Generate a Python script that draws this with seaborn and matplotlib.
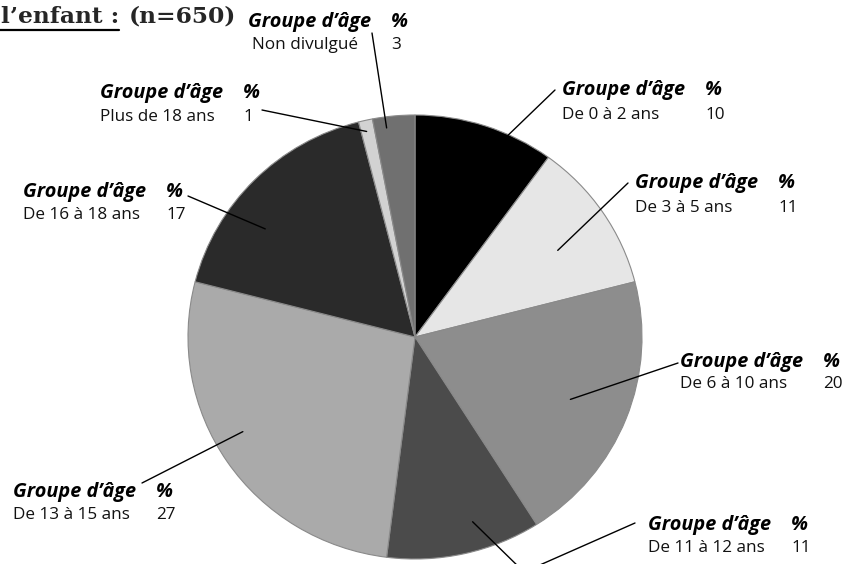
import matplotlib
matplotlib.use("Agg")
import matplotlib.pyplot as plt
from matplotlib.lines import Line2D
import seaborn as sns
import numpy as np

# Répartition par groupe d'âge de l'enfant
groups = ["De 0 à 2 ans", "De 3 à 5 ans", "De 6 à 10 ans", "De 11 à 12 ans",
          "De 13 à 15 ans", "De 16 à 18 ans", "Plus de 18 ans", "Non divulgué"]
percent = [10, 11, 20, 11, 27, 17, 1, 3]
shades = ["#000000", "#e6e6e6", "#8d8d8d", "#4b4b4b",
          "#aaaaaa", "#2a2a2a", "#d2d2d2", "#707070"]
header_label = "Groupe d\u2019âge"
pct_label = "%"
title_main = "l\u2019enfant :"
title_n = "(n=650)"

sns.set_theme(style="white")
plt.rcParams["font.family"] = ["Open Sans", "DejaVu Sans"]

W, H = 846, 564
fig = plt.figure(figsize=(W / 100, H / 100), dpi=100)
fig.patch.set_facecolor("white")


def fx(x):
    return x / W


def fy(y):
    return 1 - y / H


# pie area in pixel coordinates (left, top, right, bottom)
L, T, R, B = 188, 115, 642, 559
ax = fig.add_axes([fx(L), fy(B), (R - L) / W, (B - T) / H])
wedges, _ = ax.pie(percent, colors=shades, startangle=90, counterclock=False,
                   wedgeprops=dict(edgecolor="#8a8a8a", linewidth=0.8))
ax.set_xlim(-1, 1)
ax.set_ylim(-1, 1)
ax.set_aspect("auto")
ax.axis("off")

# label block: left x, header y, value-line y, leader start, radius, position in wedge, elbow
layout = [
    (562, 90, 115, (555, 90), 0.99, 0.67, None),
    (635, 183, 208, (628, 183), 0.74, 0.56, None),
    (680, 362, 384, (678, 363), 0.74, 0.51, None),
    (648, 525, 548, (635, 523), 0.87, 0.39, (524, 572)),
    (13, 492, 515, (142, 483), 0.87, 0.55, None),
    (23, 192, 215, (188, 196), 0.82, 0.36, None),
    (100, 93, 117, (262, 110), 0.95, 0.40, None),
    (248, 22, 45, (372, 33), 0.95, 0.30, None),
]

to_fig = ax.transData + fig.transFigure.inverted()
col_off = 143
for wedge, name, val, (lx, hy, vy, start, rr, frac, elbow) in zip(
        wedges, groups, percent, layout):
    th1, th2 = wedge.theta1, wedge.theta2
    ang = np.deg2rad(th2 - frac * (th2 - th1))
    end = to_fig.transform((rr * np.cos(ang), rr * np.sin(ang)))
    pts = [(fx(start[0]), fy(start[1]))]
    if elbow is not None:
        pts.append((fx(elbow[0]), fy(elbow[1])))
    pts.append(tuple(end))
    xs, ys = zip(*pts)
    fig.add_artist(Line2D(xs, ys, transform=fig.transFigure,
                          color="black", linewidth=1.0))

    fig.text(fx(lx), fy(hy), header_label, fontsize=14.3, fontweight="bold",
             fontstyle="italic", va="center", ha="left", color="black")
    fig.text(fx(lx + col_off), fy(hy), pct_label, fontsize=14.3, fontweight="bold",
             fontstyle="italic", va="center", ha="left", color="black")
    indent = 4 if name == "Non divulgué" else 0
    fig.text(fx(lx + indent), fy(vy), name, fontsize=12.3, va="center", ha="left",
             color="#111111")
    fig.text(fx(lx + col_off), fy(vy), f"{val}", fontsize=12.3, va="center",
             ha="left", color="#111111")

# title fragment with underlined first part
serif = ["DejaVu Serif"]
t1 = fig.text(fx(1), fy(17), title_main, fontsize=16.8, fontweight="bold",
              family=serif, va="center", ha="left")
fig.text(fx(129), fy(17), title_n, fontsize=16.8, fontweight="bold",
         family=serif, va="center", ha="left")
renderer = fig.canvas.get_renderer()
bb = t1.get_window_extent(renderer).transformed(fig.transFigure.inverted())
fig.add_artist(Line2D([0, bb.x1], [fy(30), fy(30)], transform=fig.transFigure,
                      color="black", linewidth=1.6))

fig.savefig("out.png", dpi=100, facecolor="white")
